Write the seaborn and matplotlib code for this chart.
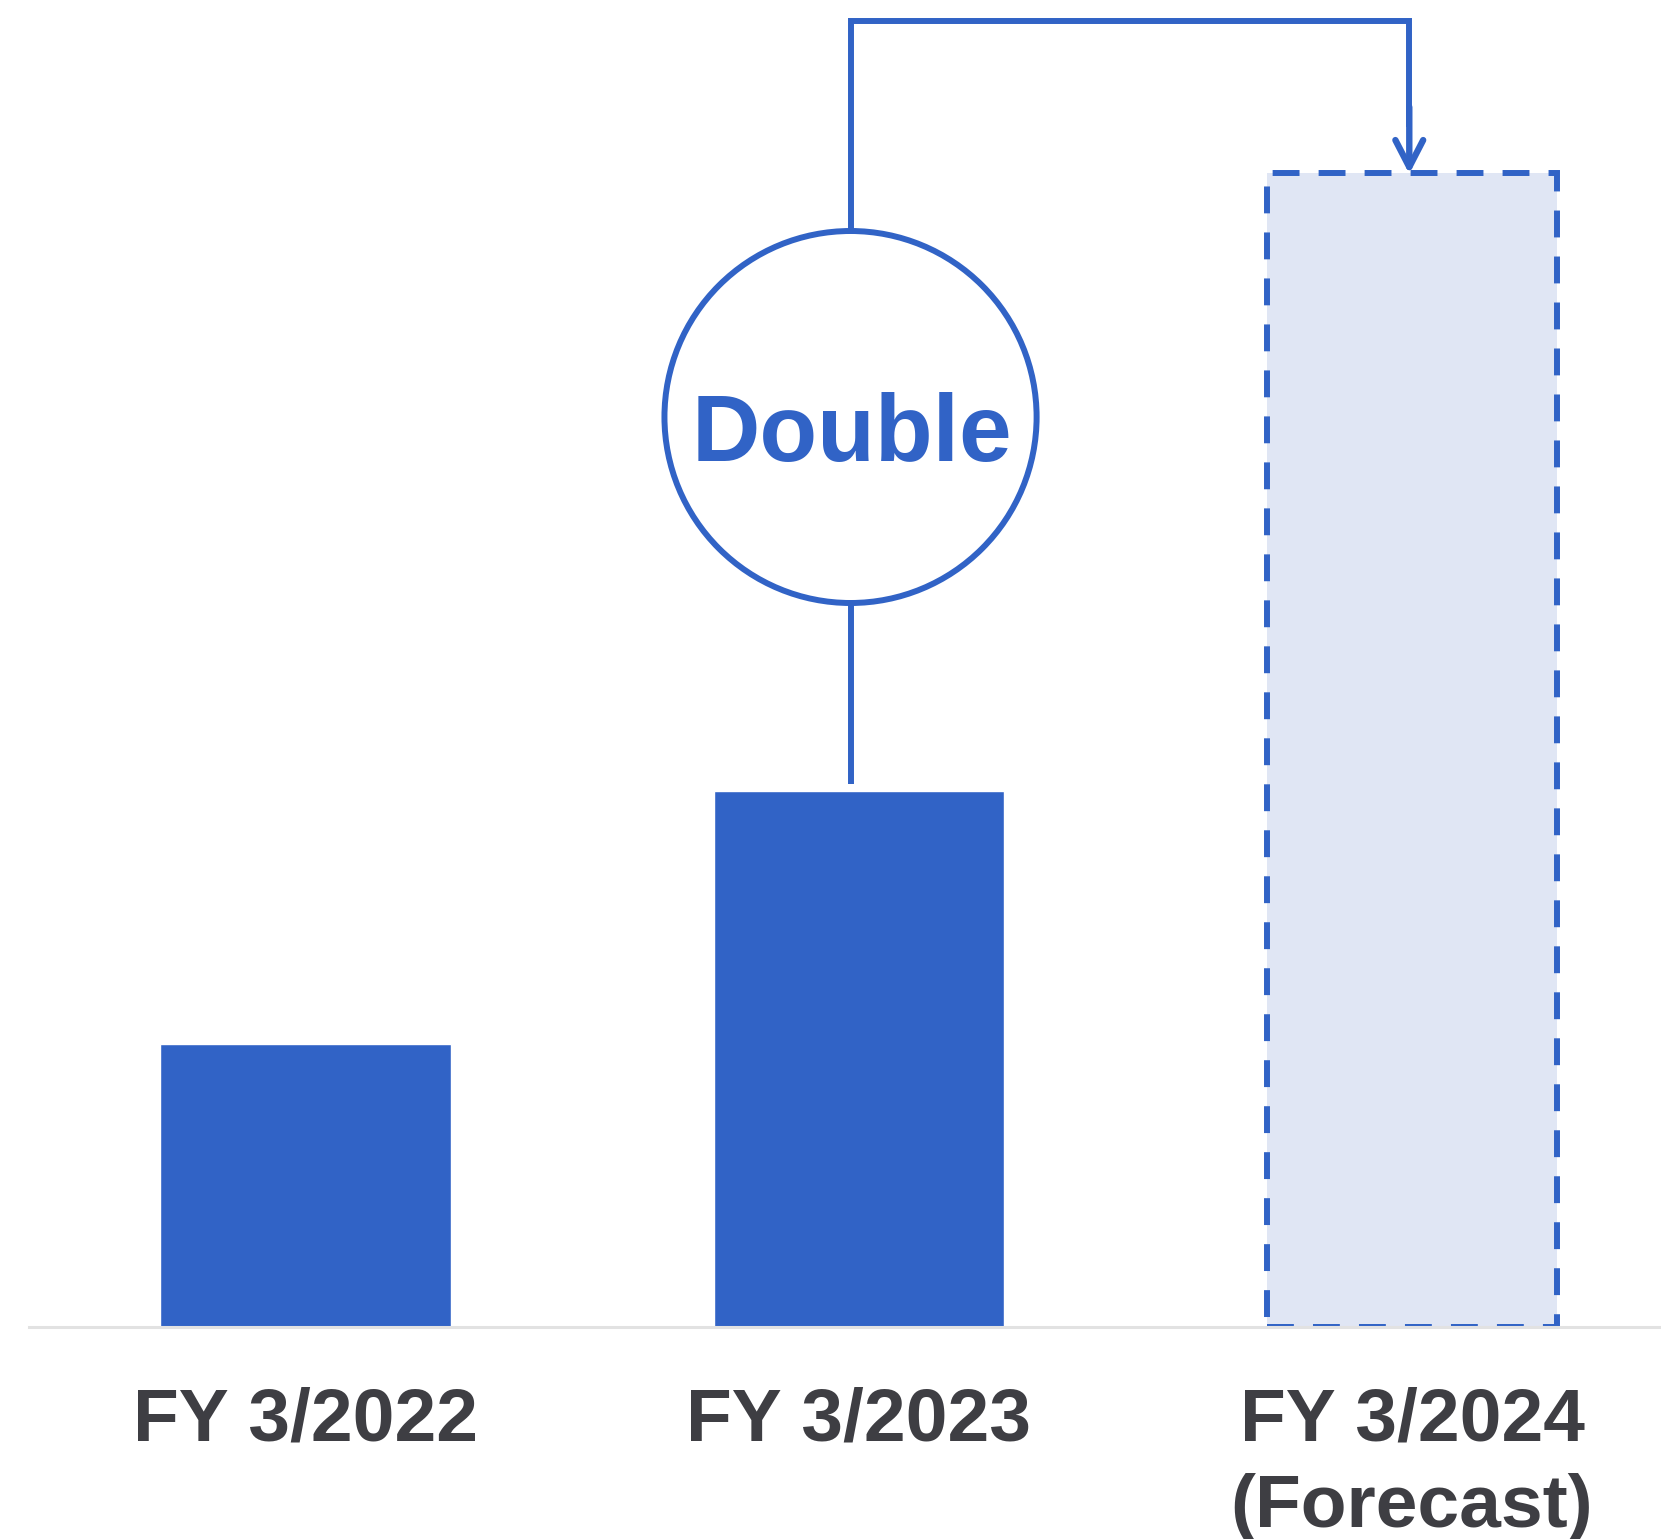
import matplotlib
matplotlib.use("Agg")
import matplotlib.pyplot as plt
from matplotlib.patches import Ellipse
import seaborn as sns
import pandas as pd

# Fiscal-year results and forecast (relative scale)
categories = ["FY 3/2022", "FY 3/2023", "FY 3/2024\n(Forecast)"]
values = [2.83, 5.36, 11.54]
bar_kind = ["actual", "actual", "forecast"]
badge_text = "Double"

BLUE = "#3163C6"
FORECAST_FILL = "#E0E6F4"
TEXT = "#3E3E43"
BASELINE = "#E2E2E2"

sns.set_theme(style="white")
plt.rcParams["font.family"] = ["Liberation Sans", "DejaVu Sans"]

df = pd.DataFrame({"year": categories, "value": values, "kind": bar_kind})

fig = plt.figure(figsize=(16.61, 15.39), dpi=100)
ax = fig.add_axes([29 / 1661, 212 / 1539, 1 - 29 / 1661, 1327 / 1539])

sns.barplot(data=df, x="year", y="value", hue="year",
            palette=[BLUE, BLUE, FORECAST_FILL], width=0.525,
            legend=False, saturation=1, ax=ax)

# Forecast bar: light fill with dashed blue outline
fc = ax.patches[2]
fc.set_edgecolor(BLUE)
fc.set_linewidth(4.3)
fc.set_linestyle((0, (4.5, 3.2)))

ax.set_xlim(-0.5, 2.45)
ax.set_ylim(0, 13.27)
ax.set_xlabel("")
ax.set_ylabel("")
ax.set_yticks([])
ax.tick_params(axis="x", length=0, pad=43, labelsize=54, labelcolor=TEXT)
for lab in ax.get_xticklabels():
    lab.set_fontweight("bold")
    lab.set_linespacing(1.32)
for side in ["left", "right", "top"]:
    ax.spines[side].set_visible(False)
ax.spines["bottom"].set_color(BASELINE)
ax.spines["bottom"].set_linewidth(2.2)

# Connector from FY 3/2023 through the "Double" badge to the forecast bar
cx = 0.985
cy = 9.10
line_kw = dict(color=BLUE, linewidth=4.3, solid_joinstyle="miter",
               solid_capstyle="butt")
ax.plot([cx, cx], [5.43, 7.25], **line_kw)
ax.plot([cx, cx, 1.995, 1.995], [10.95, 13.06, 13.06, 12.0], **line_kw)
ax.annotate("", xy=(1.995, 11.53), xytext=(1.995, 12.2),
            arrowprops=dict(arrowstyle="->,head_length=0.97,head_width=0.5",
                            color=BLUE, linewidth=4.6, mutation_scale=20,
                            shrinkA=0, shrinkB=0))

badge = Ellipse((cx, cy), width=2 * 186 / 553, height=2 * 186 / 100,
                facecolor="white", edgecolor=BLUE, linewidth=4.3, zorder=5)
ax.add_patch(badge)
ax.text(cx + 0.003, cy - 0.44, badge_text, ha="center", va="baseline",
        fontsize=68, fontweight="bold", color=BLUE, zorder=6)

fig.savefig("out.png", dpi=100, facecolor="white")
